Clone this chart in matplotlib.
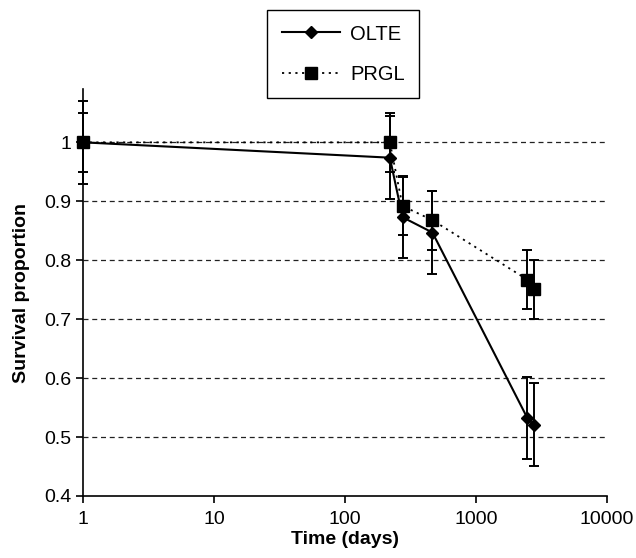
import matplotlib
matplotlib.use("Agg")
import matplotlib.pyplot as plt

# Valori
days_olte = [1, 220, 275, 465, 2470, 2750]
surv_olte = [1.0, 0.974, 0.873, 0.847, 0.532, 0.521]
err_olte = [0.07, 0.07, 0.07, 0.07, 0.07, 0.07]

days_prgl = [1, 220, 275, 465, 2470, 2750]
surv_prgl = [1.0, 1.0, 0.892, 0.868, 0.767, 0.751]
err_prgl = [0.05, 0.05, 0.05, 0.05, 0.05, 0.05]

x_ticks = [1, 10, 100, 1000, 10000]
x_labels = ["1", "10", "100", "1000", "10000"]
y_ticks = [0.4, 0.5, 0.6, 0.7, 0.8, 0.9, 1.0]
y_labels = ["0.4", "0.5", "0.6", "0.7", "0.8", "0.9", "1"]
grid_levels = [0.5, 0.6, 0.7, 0.8, 0.9, 1.0]

plt.rcParams["font.family"] = ["Liberation Sans", "DejaVu Sans"]

fig = plt.figure(figsize=(6.36, 5.58), dpi=100)
ax = fig.add_axes([83 / 636, 1 - 496 / 558, 524 / 636, (496 - 89.3) / 558])

ax.set_xscale("log")
ax.set_xlim(1, 10000)
ax.set_ylim(0.4, 1.09)

# linee orizzontali tratteggiate
for lev in grid_levels:
    ax.plot([1, 10000], [lev, lev], color="#222222", lw=0.9,
            linestyle=(0, (4, 3)), zorder=1)

# barre di errore (non tagliate sul bordo sinistro)
for xs, ys, es in [(days_olte, surv_olte, err_olte), (days_prgl, surv_prgl, err_prgl)]:
    eb = ax.errorbar(xs, ys, yerr=es, fmt="none", ecolor="black",
                     elinewidth=1.4, capsize=3.5, capthick=1.4, zorder=2)
    for art in eb.get_children():
        art.set_clip_on(False)

ax.plot(days_prgl, surv_prgl, color="black", lw=1.3, linestyle=(0, (1.2, 2.5)),
        marker="s", markersize=8, label="PRGL", zorder=3, clip_on=False)
ax.plot(days_olte, surv_olte, color="black", lw=1.5, linestyle="-",
        marker="D", markersize=6.5, label="OLTE", zorder=4, clip_on=False)

ax.set_xticks(x_ticks)
ax.set_xticklabels(x_labels)
ax.minorticks_off()
ax.set_yticks(y_ticks)
ax.set_yticklabels(y_labels)
ax.tick_params(axis="both", direction="out", length=5, width=1.2,
               labelsize=14, color="black")
ax.tick_params(axis="x", pad=6)

for s in ["top", "right"]:
    ax.spines[s].set_visible(False)
for s in ["left", "bottom"]:
    ax.spines[s].set_linewidth(1.2)

ax.set_xlabel("Time (days)", fontsize=14, fontweight="bold", labelpad=2)
ax.set_ylabel("Survival proportion", fontsize=14, fontweight="bold", labelpad=10)

handles, labels = ax.get_legend_handles_labels()
leg = ax.legend(handles[::-1], labels[::-1], loc="upper left",
                bbox_to_anchor=(267 / 636, 1 - 10 / 558),
                bbox_transform=fig.transFigure, borderaxespad=0,
                fontsize=14.5, numpoints=1, handlelength=2.9, labelspacing=1.05,
                handletextpad=0.5, borderpad=0.72, fancybox=False,
                edgecolor="black", framealpha=1)
leg.get_frame().set_linewidth(1.0)

fig.savefig("out.png", dpi=100)
